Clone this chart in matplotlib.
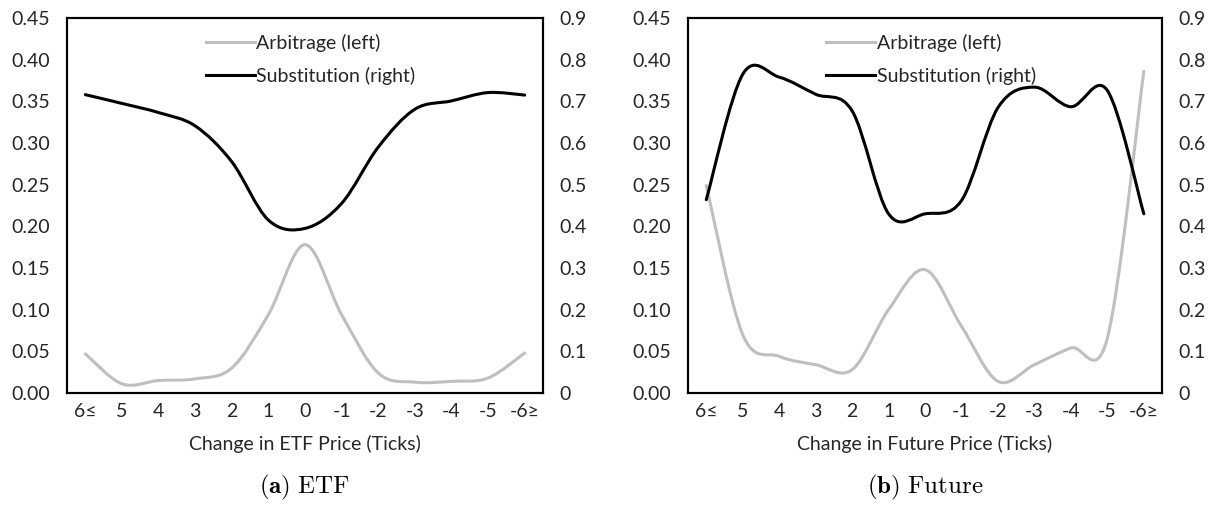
import matplotlib
matplotlib.use("Agg")
import matplotlib.pyplot as plt
from matplotlib.path import Path
from matplotlib.patches import PathPatch
from matplotlib.lines import Line2D

# categories on the x axis (price change in ticks)
categories = ["6≤", "5", "4", "3", "2", "1", "0", "-1", "-2", "-3", "-4", "-5", "-6≥"]

# panel (a) ETF
etf_arbitrage = [0.047, 0.011, 0.015, 0.017, 0.030, 0.094, 0.178, 0.094, 0.024, 0.013, 0.014, 0.018, 0.048]
etf_substitution = [0.716, 0.695, 0.673, 0.641, 0.555, 0.415, 0.395, 0.455, 0.590, 0.681, 0.701, 0.721, 0.715]

# panel (b) Future
fut_arbitrage = [0.249, 0.070, 0.044, 0.034, 0.028, 0.100, 0.148, 0.080, 0.014, 0.034, 0.054, 0.066, 0.386]
fut_substitution = [0.464, 0.765, 0.758, 0.717, 0.677, 0.430, 0.430, 0.462, 0.685, 0.734, 0.687, 0.726, 0.430]

GRAY = "#bfbfbf"
TEXT = "#262626"
FONT = ["Lato", "DejaVu Sans"]
plt.rcParams["font.family"] = FONT
plt.rcParams["mathtext.fontset"] = "cm"


def smooth_path(ys):
    '''Excel style smoothed line through the points (bezier segments)'''
    xs = list(range(len(ys)))
    n = len(xs)
    verts = [(xs[0], ys[0])]
    codes = [Path.MOVETO]
    for i in range(n - 1):
        a = i - 1 if i > 0 else i
        b = i + 2 if i + 2 < n else i + 1
        c1 = (xs[i] + (xs[i + 1] - xs[a]) / 6, ys[i] + (ys[i + 1] - ys[a]) / 6)
        c2 = (xs[i + 1] - (xs[b] - xs[i]) / 6, ys[i + 1] - (ys[b] - ys[i]) / 6)
        verts += [c1, c2, (xs[i + 1], ys[i + 1])]
        codes += [Path.CURVE4] * 3
    return Path(verts, codes)


def draw_panel(fig, rect, arbitrage, substitution, xlabel, caption):
    ax = fig.add_axes(rect)
    ax2 = ax.twinx()
    ax.add_patch(PathPatch(smooth_path(arbitrage), fill=False, ec=GRAY, lw=2.2,
                           capstyle="round", joinstyle="round"))
    ax2.add_patch(PathPatch(smooth_path(substitution), fill=False, ec="black", lw=2.2,
                            capstyle="round", joinstyle="round"))

    ax.set_xlim(-0.5, len(categories) - 0.5)
    ax.set_ylim(0, 0.45)
    ax2.set_ylim(0, 0.9)
    ax.set_xticks(range(len(categories)))
    ax.set_xticklabels(categories)
    ax.set_yticks([i * 0.05 for i in range(10)])
    ax.set_yticklabels(["%.2f" % (i * 0.05) for i in range(10)])
    ax2.set_yticks([i * 0.1 for i in range(10)])
    ax2.set_yticklabels(["0"] + ["%.1f" % (i * 0.1) for i in range(1, 10)])

    ax.tick_params(axis="both", length=0, labelsize=14, labelcolor=TEXT)
    ax.tick_params(axis="x", pad=7)
    ax.tick_params(axis="y", pad=12)
    ax2.tick_params(axis="y", length=0, labelsize=14, pad=12, labelcolor=TEXT)
    for sp in list(ax.spines.values()) + list(ax2.spines.values()):
        sp.set_linewidth(1.5)
        sp.set_color("black")

    ax.set_xlabel(xlabel, fontsize=14, color=TEXT, labelpad=11)

    handles = [Line2D([], [], color=GRAY, lw=2.2), Line2D([], [], color="black", lw=2.2)]
    ax2.legend(handles, ["Arbitrage (left)", "Substitution (right)"], loc="upper left",
               frameon=False, fontsize=14, handlelength=2.5, handletextpad=0.1,
               labelspacing=0.8, bbox_to_anchor=(0.255, 1.005), labelcolor=TEXT)

    fig.text(rect[0] + rect[2] / 2, 0.035, caption, ha="center", fontsize=18)
    return ax


fig = plt.figure(figsize=(12.12, 5.11), dpi=100)
draw_panel(fig, [0.0553, 0.2309, 0.3927, 0.7339], etf_arbitrage, etf_substitution,
           "Change in ETF Price (Ticks)", r"$\mathbf{(a)}\ \mathrm{ETF}$")
draw_panel(fig, [0.5677, 0.2309, 0.3911, 0.7339], fut_arbitrage, fut_substitution,
           "Change in Future Price (Ticks)", r"$\mathbf{(b)}\ \mathrm{Future}$")

fig.savefig("out.png", dpi=100)
